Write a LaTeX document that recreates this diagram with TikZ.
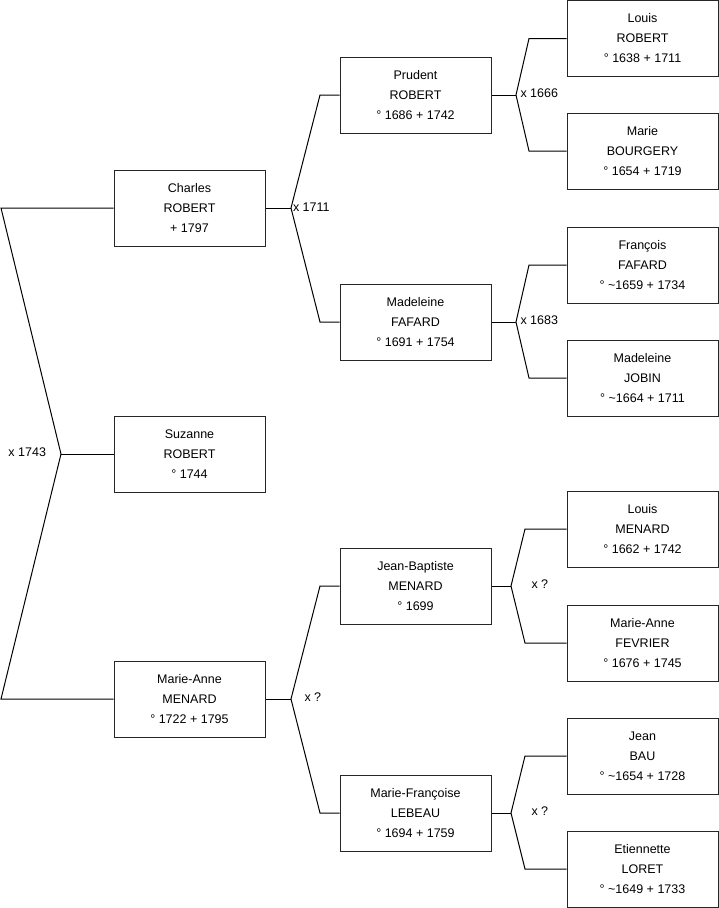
\documentclass[tikz,border=0pt]{standalone}
\usepackage{fontspec}
\setmainfont{Liberation Sans}
\begin{document}
\begin{tikzpicture}[x=1pt,y=-1pt,line width=1pt,
  person/.style={draw=black!85,minimum width=151pt,minimum height=76pt,align=center,
    font=\fontsize{12.5}{20}\selectfont,inner sep=0pt},
  lbl/.style={font=\fontsize{12.5}{15}\selectfont,inner sep=0pt,anchor=west},
  conn/.style={draw=black,line width=1pt}]
\useasboundingbox (0,0) rectangle (719,908);
% column 1
\node[person] (charles) at (189.5,208) {Charles\\ROBERT\\+ 1797};
\node[person] (suzanne) at (189.5,454) {Suzanne\\ROBERT\\° 1744};
\node[person] (marieanne) at (189.5,699) {Marie-Anne\\MENARD\\° 1722 + 1795};
% column 2
\node[person] (prudent) at (415.5,95) {Prudent\\ROBERT\\° 1686 + 1742};
\node[person] (madeleine) at (415.5,322) {Madeleine\\FAFARD\\° 1691 + 1754};
\node[person] (jb) at (415.5,586) {Jean-Baptiste\\MENARD\\° 1699};
\node[person] (mf) at (415.5,813) {Marie-Françoise\\LEBEAU\\° 1694 + 1759};
% column 3
\node[person] (louisr) at (642.5,38.5) {Louis\\ROBERT\\° 1638 + 1711};
\node[person] (marieb) at (642.5,151) {Marie\\BOURGERY\\° 1654 + 1719};
\node[person] (francois) at (642.5,265) {François\\FAFARD\\° \textasciitilde1659 + 1734};
\node[person] (madj) at (642.5,378) {Madeleine\\JOBIN\\° \textasciitilde1664 + 1711};
\node[person] (louism) at (642.5,529) {Louis\\MENARD\\° 1662 + 1742};
\node[person] (mafev) at (642.5,643) {Marie-Anne\\FEVRIER\\° 1676 + 1745};
\node[person] (jeanb) at (642.5,756) {Jean\\BAU\\° \textasciitilde1654 + 1728};
\node[person] (etien) at (642.5,869) {Etiennette\\LORET\\° \textasciitilde1649 + 1733};
% fork coordinates
\coordinate (r0a) at (1,208);
\coordinate (r0) at (61,454);
\coordinate (r0b) at (1,699);
\coordinate (f1) at (291,208);
\coordinate (f1a) at (320,95);
\coordinate (f1b) at (320,322);
\coordinate (f2) at (516,95);
\coordinate (f2a) at (529,38.5);
\coordinate (f2b) at (529,151);
\coordinate (f3) at (516,322);
\coordinate (f3a) at (529,265);
\coordinate (f3b) at (529,378);
\coordinate (f4) at (291,699);
\coordinate (f4a) at (320,586);
\coordinate (f4b) at (320,813);
\coordinate (f5) at (511,586);
\coordinate (f5a) at (525,529);
\coordinate (f5b) at (525,643);
\coordinate (f6) at (511,813);
\coordinate (f6a) at (525,756);
\coordinate (f6b) at (525,869);
% connectors
\draw[conn] (charles.west) -- (r0a) -- (r0) -- (r0b) -- (marieanne.west);
\draw[conn] (r0) -- (suzanne.west);
\draw[conn] (charles.east) -- (f1);
\draw[conn] (prudent.west) -- (f1a) -- (f1) -- (f1b) -- (madeleine.west);
\draw[conn] (prudent.east) -- (f2);
\draw[conn] (louisr.west) -- (f2a) -- (f2) -- (f2b) -- (marieb.west);
\draw[conn] (madeleine.east) -- (f3);
\draw[conn] (francois.west) -- (f3a) -- (f3) -- (f3b) -- (madj.west);
\draw[conn] (marieanne.east) -- (f4);
\draw[conn] (jb.west) -- (f4a) -- (f4) -- (f4b) -- (mf.west);
\draw[conn] (jb.east) -- (f5);
\draw[conn] (louism.west) -- (f5a) -- (f5) -- (f5b) -- (mafev.west);
\draw[conn] (mf.east) -- (f6);
\draw[conn] (jeanb.west) -- (f6a) -- (f6) -- (f6b) -- (etien.west);
% labels
\node[lbl] (l0) at (8,452) {x 1743};
\node[lbl] (l1) at (292.5,207) {x 1711};
\node[lbl] (l2) at (520,93) {x 1666};
\node[lbl] (l3) at (520,320) {x 1683};
\node[lbl] (l4) at (304,697) {x ?};
\node[lbl] (l5) at (531,584) {x ?};
\node[lbl] (l6) at (531,811) {x ?};
\end{tikzpicture}
\end{document}
